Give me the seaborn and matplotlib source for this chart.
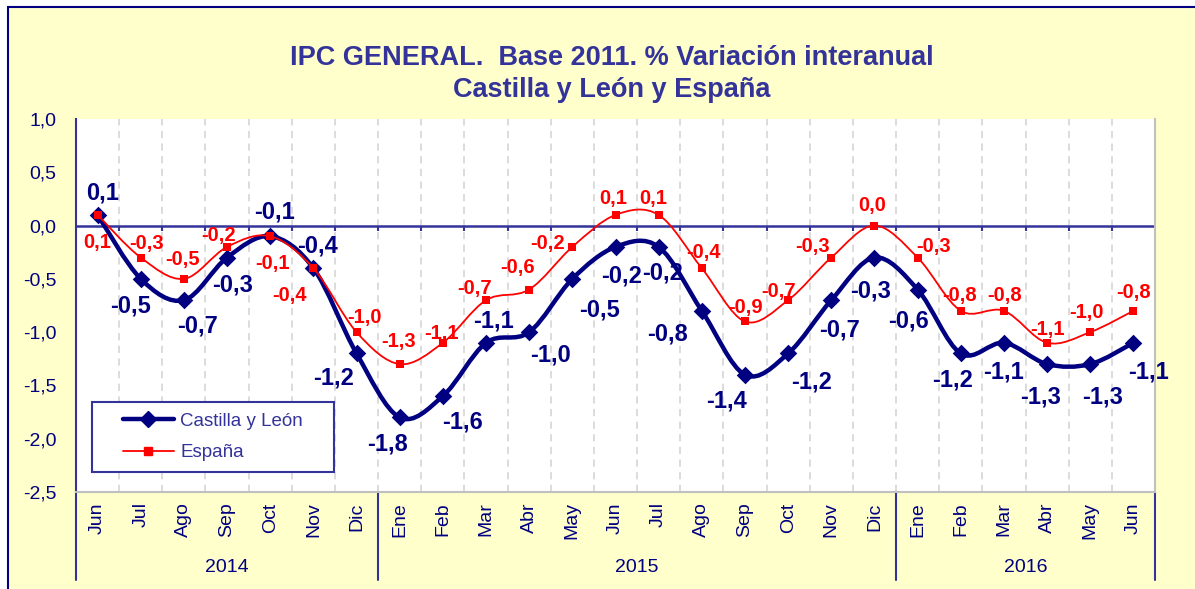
import numpy as np
import pandas as pd
import seaborn as sns
import matplotlib.pyplot as plt
from matplotlib.path import Path
from matplotlib.patches import PathPatch, Rectangle
from matplotlib.lines import Line2D

# datos: IPC general, variacion interanual (%)
meses = ["Jun", "Jul", "Ago", "Sep", "Oct", "Nov", "Dic",
         "Ene", "Feb", "Mar", "Abr", "May", "Jun", "Jul", "Ago", "Sep", "Oct", "Nov", "Dic",
         "Ene", "Feb", "Mar", "Abr", "May", "Jun"]
anios = ["2014", "2015", "2016"]
meses_por_anio = [7, 12, 6]

castilla_leon = [0.1, -0.5, -0.7, -0.3, -0.1, -0.4, -1.2,
                 -1.8, -1.6, -1.1, -1.0, -0.5, -0.2, -0.2, -0.8, -1.4, -1.2, -0.7, -0.3,
                 -0.6, -1.2, -1.1, -1.3, -1.3, -1.1]
espana = [0.1, -0.3, -0.5, -0.2, -0.1, -0.4, -1.0,
          -1.3, -1.1, -0.7, -0.6, -0.2, 0.1, 0.1, -0.4, -0.9, -0.7, -0.3, 0.0,
          -0.3, -0.8, -0.8, -1.1, -1.0, -0.8]

# desplazamiento de las etiquetas (pixeles)
off_cyl = [(5, 22), (-10, -27), (14, -26), (6, -27), (4, 24), (4, 22), (-23, -25),
           (-12, -27), (20, -26), (7, 22), (21, -23), (27, -31), (6, -29), (4, -26),
           (-34, -23), (-18, -26), (23, -29), (8, -30), (-4, -33),
           (-9, -31), (-8, -27), (0, -29), (-7, -33), (12, -33), (15, -29)]
off_esp = [(0, -28), (6, 14), (-1, 19), (-8, 11), (2, -27), (-24, -27), (8, 15),
           (-1, 23), (-1, 9), (-11, 12), (-12, 22), (-25, 3), (-2, 16), (-5, 16),
           (2, 16), (1, 14), (-10, 9), (-19, 11), (-2, 20),
           (16, 11), (-1, 15), (1, 15), (0, 13), (-4, 20), (0, 18)]

NAVY = "#000080"
AZUL = "#333399"
ROJO = "#FF0000"
AMARILLO = "#FFFFCC"

sns.set_style("white")
plt.rcParams['font.family'] = ['Liberation Sans', 'DejaVu Sans']

df = pd.DataFrame({"pos": np.arange(len(meses)), "cyl": castilla_leon, "esp": espana})


def curva_suave(xs, ys):
    # curva tipo Excel "linea suavizada" (bezier catmull-rom)
    pts = np.column_stack([xs, ys]).astype(float)
    n = len(pts)
    verts = [pts[0]]
    codes = [Path.MOVETO]
    for i in range(n - 1):
        p0 = pts[max(i - 1, 0)]
        p1 = pts[i]
        p2 = pts[i + 1]
        p3 = pts[min(i + 2, n - 1)]
        verts += [p1 + (p2 - p0) / 6, p2 - (p3 - p1) / 6, p2]
        codes += [Path.CURVE4] * 3
    return Path(verts, codes)


fig = plt.figure(figsize=(11.95, 5.89), dpi=100, facecolor="white")
fig.add_artist(Rectangle((7.5 / 1195, -0.02), 1.0, (589 - 7.5) / 589 + 0.02,
                         transform=fig.transFigure, facecolor=AMARILLO,
                         edgecolor=NAVY, linewidth=1.5, zorder=0))

ax = fig.add_axes([76 / 1195, 97 / 589, 1079 / 1195, 373 / 589])
ax.set_facecolor("white")

# lineas suavizadas
ax.add_patch(PathPatch(curva_suave(df.pos, df.cyl), fill=False, edgecolor=NAVY,
                       linewidth=3.2, capstyle="round", joinstyle="round", zorder=3))
sns.scatterplot(data=df, x="pos", y="cyl", marker="D", s=80, color=NAVY,
                linewidth=0, ax=ax, zorder=4)
ax.add_patch(PathPatch(curva_suave(df.pos, df.esp), fill=False, edgecolor=ROJO,
                       linewidth=1.3, zorder=5))
sns.scatterplot(data=df, x="pos", y="esp", marker="s", s=28, color=ROJO,
                linewidth=0, ax=ax, zorder=6)

fmt = lambda v: f"{v:.1f}".replace(".", ",").replace("-0,0", "0,0")
for i in range(len(meses)):
    ax.annotate(fmt(castilla_leon[i]), (i, castilla_leon[i]), xytext=off_cyl[i],
                textcoords="offset pixels", ha="center", va="center",
                fontsize=17, fontweight="bold", color=NAVY, zorder=7)
    ax.annotate(fmt(espana[i]), (i, espana[i]), xytext=off_esp[i],
                textcoords="offset pixels", ha="center", va="center",
                fontsize=14.5, fontweight="bold", color=ROJO, zorder=7)

ax.set_xlim(-0.5, len(meses) - 0.5)
ax.set_ylim(-2.5, 1.0)
yt = np.arange(-2.5, 1.01, 0.5)
ax.set_yticks(yt)
ax.set_yticklabels([fmt(v) for v in yt])
ax.set_xticks(df.pos)
ax.set_xticklabels(meses, rotation=90)
limites = np.arange(0.5, len(meses) - 0.5, 1.0)
ax.set_xticks(limites, minor=True)
ax.tick_params(axis="y", direction="out", length=7, width=1.5, color=AZUL,
               labelcolor=NAVY, labelsize=14, pad=7)
ax.tick_params(axis="x", which="major", length=0, labelcolor=NAVY, labelsize=14, pad=7.5)
ax.tick_params(axis="x", which="minor", direction="out", length=36, width=1.5, color=AZUL)
ax.grid(False)
ax.grid(True, which="minor", axis="x", color="#D9D9D9", linestyle=(0, (4, 3)), linewidth=1.3)
ax.set_axisbelow(True)
ax.set_xlabel("")
ax.set_ylabel("")

ax.axhline(0, color=AZUL, linewidth=1.8, zorder=2)
ax.vlines(limites, -0.047, 0, color=AZUL, linewidth=1.5, zorder=2)

ax.spines["top"].set_visible(False)
for s in ["right", "bottom"]:
    ax.spines[s].set_color("#C0C0C0")
    ax.spines[s].set_linewidth(1.5)
ax.spines["left"].set_color(AZUL)
ax.spines["left"].set_linewidth(1.5)

# eje de categorias de dos niveles
bajo = -(580 - 492) / 373
xt = ax.get_xaxis_transform()
ax.plot([0, 0], [0, bajo], transform=ax.transAxes, color=AZUL, lw=1.5, clip_on=False)
ax.plot([1, 1], [0, bajo], transform=ax.transAxes, color=AZUL, lw=1.5, clip_on=False)
inicio = -0.5
for anio, n in zip(anios, meses_por_anio):
    fin = inicio + n
    if fin < len(meses) - 0.5:
        ax.plot([fin, fin], [0, bajo], transform=xt, color=AZUL, lw=1.5, clip_on=False)
    ax.text((inicio + fin) / 2, -(568 - 492) / 373, anio, transform=xt,
            ha="center", va="center", fontsize=14, color=NAVY)
    inicio = fin

# leyenda con marco propio (Excel deja mas margen lateral)
ax.add_patch(Rectangle((16 / 1079, 20 / 373), 242 / 1079, 70 / 373, transform=ax.transAxes,
                       facecolor="white", edgecolor=AZUL, linewidth=1.5, zorder=8))
handles = [Line2D([], [], color=NAVY, lw=3.2, marker="D", ms=8.5),
           Line2D([], [], color=ROJO, lw=1.3, marker="s", ms=5.3)]
leg = ax.legend(handles, ["Castilla y León", "España"], loc="center",
                bbox_to_anchor=(137 / 1079, 55 / 373), borderaxespad=0, frameon=False,
                fontsize=13.5, labelcolor=AZUL, handlelength=2.7,
                handletextpad=0.35, borderpad=0, labelspacing=0.75, numpoints=1)
leg.set_zorder(9)

titulo_font = ['Liberation Sans Narrow', 'Liberation Sans', 'DejaVu Sans']
fig.text(0.512, (589 - 58) / 589, "IPC GENERAL.  Base 2011. % Variación interanual",
         ha="center", va="center", fontsize=19.5, fontweight="bold", color=AZUL,
         family=titulo_font)
fig.text(0.512, (589 - 90) / 589, "Castilla y León y España",
         ha="center", va="center", fontsize=19.5, fontweight="bold", color=AZUL,
         family=titulo_font)

plt.savefig("out.png", dpi=100, facecolor=fig.get_facecolor())
